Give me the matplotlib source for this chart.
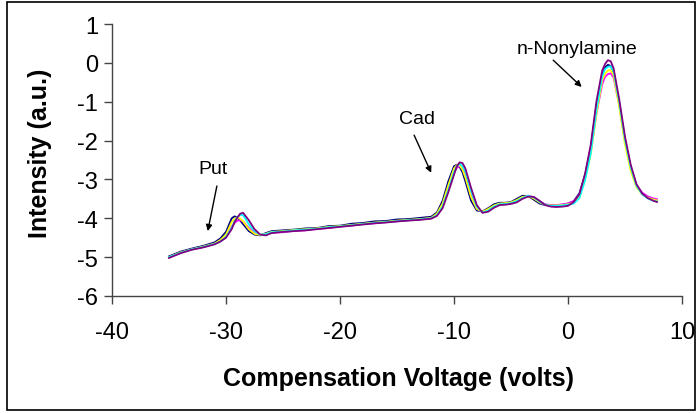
import matplotlib.pyplot as plt
from matplotlib.patches import Rectangle

plt.rcParams['font.family'] = ['Liberation Sans', 'DejaVu Sans']
plt.rcParams['axes.unicode_minus'] = False

# compensation voltage grid (V)
cv = [-35, -34, -33, -32, -31, -30.5, -30, -29.5, -29.25, -29, -28.75, -28.5, -28, -27.5, -27, -26.5, -26,
      -25, -24, -23, -22, -21, -20, -19, -18, -17, -16, -15, -14, -13, -12,
      -11.5, -11, -10.5, -10, -9.75, -9.5, -9.25, -9, -8.5, -8, -7.5, -7, -6.5, -6, -5.5, -5,
      -4.5, -4, -3.5, -3, -2.5, -2, -1.5, -1, -0.5, 0, 0.5, 1, 1.5, 2, 2.5, 3, 3.25, 3.5, 3.75, 4,
      4.5, 5, 5.5, 6, 6.5, 7, 7.5, 7.8]

run_navy = [-4.98, -4.86, -4.78, -4.71, -4.62, -4.52, -4.35, -4.00, -3.95, -3.98, -4.06, -4.15, -4.33, -4.42, -4.44, -4.38, -4.33,
            -4.31, -4.29, -4.26, -4.25, -4.20, -4.19, -4.14, -4.12, -4.08, -4.07, -4.03, -4.02, -3.99, -3.96,
            -3.85, -3.55, -3.05, -2.66, -2.62, -2.68, -2.82, -3.05, -3.55, -3.80, -3.82, -3.74, -3.64, -3.60, -3.60, -3.58,
            -3.50, -3.42, -3.43, -3.52, -3.62, -3.66, -3.67, -3.67, -3.66, -3.62, -3.56, -3.36, -2.88, -2.18, -1.10, -0.30, -0.12, -0.05, -0.08, -0.25,
            -1.05, -2.00, -2.70, -3.15, -3.36, -3.46, -3.52, -3.55]

run_magenta = [-5.01, -4.89, -4.80, -4.74, -4.66, -4.58, -4.47, -4.22, -4.12, -4.06, -4.05, -4.08, -4.25, -4.38, -4.43, -4.40, -4.37,
               -4.36, -4.32, -4.31, -4.27, -4.25, -4.21, -4.19, -4.15, -4.13, -4.10, -4.08, -4.05, -4.03, -4.00,
               -3.91, -3.68, -3.25, -2.82, -2.70, -2.66, -2.72, -2.88, -3.38, -3.74, -3.84, -3.78, -3.69, -3.63, -3.62, -3.61,
               -3.56, -3.47, -3.42, -3.46, -3.56, -3.64, -3.66, -3.66, -3.64, -3.62, -3.56, -3.40, -2.95, -2.30, -1.30, -0.55, -0.36, -0.29, -0.27, -0.38,
               -1.10, -2.02, -2.70, -3.14, -3.34, -3.44, -3.49, -3.51]

run_yellow = [-5.00, -4.88, -4.80, -4.73, -4.65, -4.56, -4.42, -4.10, -4.01, -3.98, -4.01, -4.08, -4.28, -4.40, -4.43, -4.40, -4.35,
              -4.33, -4.30, -4.28, -4.26, -4.22, -4.20, -4.17, -4.14, -4.11, -4.09, -4.06, -4.04, -4.02, -3.99,
              -3.88, -3.62, -3.15, -2.72, -2.63, -2.64, -2.75, -2.95, -3.45, -3.76, -3.83, -3.76, -3.67, -3.62, -3.61, -3.59,
              -3.53, -3.45, -3.43, -3.49, -3.59, -3.65, -3.67, -3.67, -3.66, -3.64, -3.60, -3.45, -3.00, -2.35, -1.30, -0.45, -0.28, -0.20, -0.19, -0.32,
              -1.15, -2.10, -2.78, -3.20, -3.38, -3.47, -3.52, -3.54]

run_cyan = [-5.00, -4.89, -4.80, -4.74, -4.66, -4.60, -4.48, -4.25, -4.08, -3.97, -3.91, -3.92, -4.15, -4.33, -4.42, -4.41, -4.36,
            -4.34, -4.31, -4.29, -4.27, -4.23, -4.21, -4.18, -4.15, -4.12, -4.10, -4.07, -4.05, -4.03, -4.00,
            -3.92, -3.70, -3.28, -2.82, -2.66, -2.60, -2.66, -2.80, -3.30, -3.70, -3.85, -3.80, -3.70, -3.64, -3.63, -3.61,
            -3.56, -3.48, -3.42, -3.46, -3.57, -3.65, -3.68, -3.68, -3.67, -3.65, -3.62, -3.48, -3.02, -2.32, -1.20, -0.35, -0.16, -0.10, -0.09, -0.22,
            -1.02, -1.98, -2.68, -3.16, -3.38, -3.49, -3.55, -3.57]

run_purple = [-5.02, -4.90, -4.81, -4.75, -4.67, -4.60, -4.50, -4.28, -4.10, -3.98, -3.88, -3.86, -4.05, -4.28, -4.42, -4.44, -4.38,
              -4.35, -4.33, -4.31, -4.28, -4.25, -4.22, -4.19, -4.16, -4.13, -4.11, -4.08, -4.06, -4.04, -4.01,
              -3.94, -3.74, -3.33, -2.88, -2.66, -2.56, -2.58, -2.72, -3.22, -3.66, -3.86, -3.83, -3.73, -3.66, -3.65, -3.63,
              -3.59, -3.50, -3.44, -3.45, -3.55, -3.66, -3.70, -3.71, -3.70, -3.68, -3.58, -3.38, -2.85, -2.10, -0.98, -0.20, -0.03, 0.07, 0.04, -0.14,
              -0.95, -1.90, -2.62, -3.12, -3.36, -3.48, -3.55, -3.58]

runs = [run_navy, run_magenta, run_yellow, run_cyan, run_purple]
colors = ['#000080', '#FF00FF', '#FFFF00', '#00FFFF', '#800080']

fig = plt.figure(figsize=(6.97, 4.14), dpi=100)
ax = fig.add_axes([112 / 697, 1 - 297 / 414, 570 / 697, 272 / 414])

for run, c in zip(runs, colors):
    ax.plot(cv, run, color=c, lw=1.3)

ax.set_xlim(-40, 10)
ax.set_ylim(-6, 1)
ax.set_xticks([-40, -30, -20, -10, 0, 10])
ax.set_yticks(range(-6, 2))
ax.spines['top'].set_visible(False)
ax.spines['right'].set_visible(False)
for s in ['left', 'bottom']:
    ax.spines[s].set_color('#444444')
    ax.spines[s].set_linewidth(1.0)
ax.tick_params(axis='x', direction='out', length=6, width=1, pad=12, labelsize=17, color='#444444')
ax.tick_params(axis='y', direction='out', length=6, width=1, pad=4, labelsize=17, color='#444444')

ax.set_xlabel('Compensation Voltage (volts)', fontsize=18, fontweight='bold')
ax.set_ylabel('Intensity (a.u.)', fontsize=18, fontweight='bold')
ax.xaxis.set_label_coords(0.502, -0.258)
ax.yaxis.set_label_coords(-0.106, 0.53)

# peak labels
arrow = dict(arrowstyle='-|>', color='black', lw=1.0, mutation_scale=9, shrinkA=0, shrinkB=0)
ax.text(-31.1, -2.71, 'Put', fontsize=14, ha='center', va='center')
ax.annotate('', xy=(-31.6, -4.33), xytext=(-30.8, -3.17), arrowprops=arrow)
ax.text(-13.25, -1.42, 'Cad', fontsize=14, ha='center', va='center')
ax.annotate('', xy=(-12.0, -2.83), xytext=(-13.5, -1.86), arrowprops=arrow)
ax.text(0.8, 0.36, 'n-Nonylamine', fontsize=14, ha='center', va='center')
ax.annotate('', xy=(1.2, -0.62), xytext=(-1.3, 0.07), arrowprops=arrow)

# outer frame
fig.patches.append(Rectangle((7 / 697, 3 / 414), 688 / 697, 408 / 414, transform=fig.transFigure,
                             fill=False, edgecolor='black', lw=1.2))

fig.savefig('out.png', dpi=100)
